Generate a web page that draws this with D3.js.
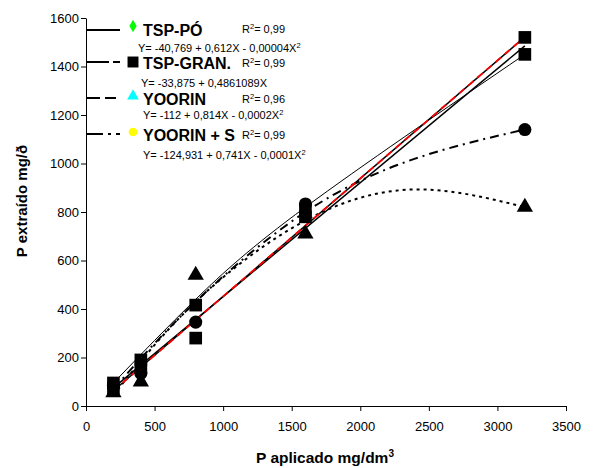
<!DOCTYPE html>
<html>
<head>
<meta charset="utf-8">
<script src="https://cdn.jsdelivr.net/npm/d3@7"></script>
<style>
  body { margin: 0; background: #fff; }
  svg { font-family: "Liberation Sans", Arial, sans-serif; }
</style>
</head>
<body>
<div id="chart"></div>
<script>
// Chart size
const width = 595;
const height = 468;
const margin = { top: 18, right: 29, bottom: 62, left: 86 };

// Data: P applied (mg/dm3) and P extracted for each fertilizer
const doses = [200, 400, 800, 1600, 3200];
const tspPo = [95, 190, 416, 810, 1450];
const tspGran = [75, 160, 280, 780, 1520];
const yoorin = [55, 100, 540, 710, 820];
const yoorinS = [85, 135, 346, 833, 1140];

// Trendlines as [dose, value]
const tspPoFit = [[200, 95], [800, 440], [1600, 820], [3200, 1450]];
const tspPoLine = [[200, 75], [3200, 1485]];
const tspGranFit = [[200, 63], [3200, 1522]];
const yoorinFit = [[200, 45], [800, 430], [1600, 765], [2400, 893], [3200, 820]];
const yoorinSFit = [[200, 70], [800, 430], [1600, 800], [2400, 1020], [3200, 1140]];

// Axis ticks
const xTicks = [0, 500, 1000, 1500, 2000, 2500, 3000, 3500];
const yTicks = [0, 200, 400, 600, 800, 1000, 1200, 1400, 1600];

// Legend texts
const legendNames = ["TSP-PÓ", "TSP-GRAN.", "YOORIN", "YOORIN + S"];
const legendR2 = ["0,99", "0,99", "0,96", "0,99"];
const legendEq = [
    ["Y= -40,769 + 0,612X - 0,00004X", "2"],
    ["Y= -33,875 + 0,4861089X", ""],
    ["Y= -112 + 0,814X - 0,0002X", "2"],
    ["Y= -124,931 + 0,741X - 0,0001X", "2"]
];

const svg = d3.select("#chart")
    .append("svg")
    .attr("width", width)
    .attr("height", height);

const x = d3.scaleLinear().domain([0, 3500]).range([margin.left, width - margin.right]);
const y = d3.scaleLinear().domain([0, 1600]).range([height - margin.bottom, margin.top]);

// Axes
const xAxis = svg.append("g")
    .attr("transform", `translate(0,${y(0)})`)
    .call(d3.axisBottom(x).tickValues(xTicks).tickSize(5).tickSizeOuter(0).tickFormat(d3.format("d")));
const yAxis = svg.append("g")
    .attr("transform", `translate(${x(0)},0)`)
    .call(d3.axisLeft(y).tickValues(yTicks).tickSize(5).tickSizeOuter(0).tickFormat(d3.format("d")));

[xAxis, yAxis].forEach(a => {
    a.select(".domain").attr("stroke", "#000").attr("stroke-width", 1);
    a.selectAll(".tick line").attr("stroke", "#000");
    a.selectAll(".tick text").attr("fill", "#000").style("font-size", "13px");
});
xAxis.selectAll(".tick text").attr("dy", "1.3em");
yAxis.selectAll(".tick text").attr("x", -7);

// Axis titles
svg.append("text")
    .attr("x", 325).attr("y", 463)
    .attr("text-anchor", "middle")
    .style("font-size", "15.5px").style("font-weight", "bold")
    .text("P aplicado mg/dm")
    .append("tspan").attr("dy", -6).style("font-size", "10px").text("3");

svg.append("text")
    .attr("transform", "translate(27,201) rotate(-90)")
    .attr("text-anchor", "middle")
    .style("font-size", "15px").style("font-weight", "bold")
    .text("P extraído mg/ð");

// Trendlines
const line = d3.line().x(d => x(d[0])).y(d => y(d[1])).curve(d3.curveNatural);

function drawFit(pts, width, dash, color) {
    svg.append("path")
        .datum(pts)
        .attr("d", line)
        .attr("fill", "none")
        .attr("stroke", color || "#000")
        .attr("stroke-width", width)
        .attr("stroke-dasharray", dash || null);
}

drawFit(yoorinFit, 2, "3,4");
drawFit(yoorinSFit, 2, "9,5,2,5");
drawFit(tspPoFit, 1);
drawFit(tspPoLine, 1.5);
drawFit(tspGranFit, 1.5);
drawFit(tspGranFit, 1.8, "7,5", "#ff0000");

// Markers (all black in the plot)
const sym = (type, size) => d3.symbol().type(type).size(size)();

function drawMarkers(values, type, size) {
    svg.append("g")
        .selectAll("path")
        .data(doses.map((d, i) => [d, values[i]]))
        .join("path")
        .attr("transform", d => `translate(${x(d[0])},${y(d[1])})`)
        .attr("d", sym(type, size))
        .attr("fill", "#000");
}

drawMarkers(yoorin, d3.symbolTriangle, 115);
drawMarkers(yoorinS, d3.symbolCircle, 135);
drawMarkers(tspGran, d3.symbolSquare, 160);
drawMarkers(tspPo, d3.symbolSquare, 160);

// Legend
const legendY = [30, 62, 98, 134];
const legendDash = [null, "22,4,8,200", "13,5,11,200", "16,5,3,5,5,200"];
const legendSym = [d3.symbolDiamond, d3.symbolSquare, d3.symbolTriangle, d3.symbolCircle];
const legendFill = ["#00ff00", "#000", "#00ffff", "#ffff00"];
const legendR2x = [242, 242, 242, 242];
const legendEqPos = [[138, 52], [141, 87], [143, 119], [143, 159]];

legendNames.forEach((name, i) => {
    const ly = legendY[i];
    svg.append("line")
        .attr("x1", 87).attr("x2", 120)
        .attr("y1", ly).attr("y2", ly)
        .attr("stroke", "#000").attr("stroke-width", 2)
        .attr("stroke-dasharray", legendDash[i]);

    svg.append("path")
        .attr("transform", `translate(133,${ly - (i === 0 ? 4 : i === 1 ? 0 : 2)})`)
        .attr("d", sym(legendSym[i], i === 1 ? 120 : i === 0 ? 45 : 60))
        .attr("fill", legendFill[i]);

    svg.append("text")
        .attr("x", 143).attr("y", ly + 7 - (i === 0 ? 1 : 0))
        .style("font-size", "16px").style("font-weight", "bold")
        .text(name);

    const r2 = svg.append("text")
        .attr("x", legendR2x[i]).attr("y", ly + 5 - (i === 0 ? 2 : 0))
        .style("font-size", "11px")
        .text("R");
    r2.append("tspan").attr("dy", -4).style("font-size", "7.5px").text("2");
    r2.append("tspan").attr("dy", 4).text("= " + legendR2[i]);

    const eq = svg.append("text")
        .attr("x", legendEqPos[i][0]).attr("y", legendEqPos[i][1])
        .style("font-size", "11px")
        .text(legendEq[i][0]);
    if (legendEq[i][1]) {
        eq.append("tspan").attr("dy", -4).style("font-size", "7.5px").text(legendEq[i][1]);
    }
});
</script>
</body>
</html>
